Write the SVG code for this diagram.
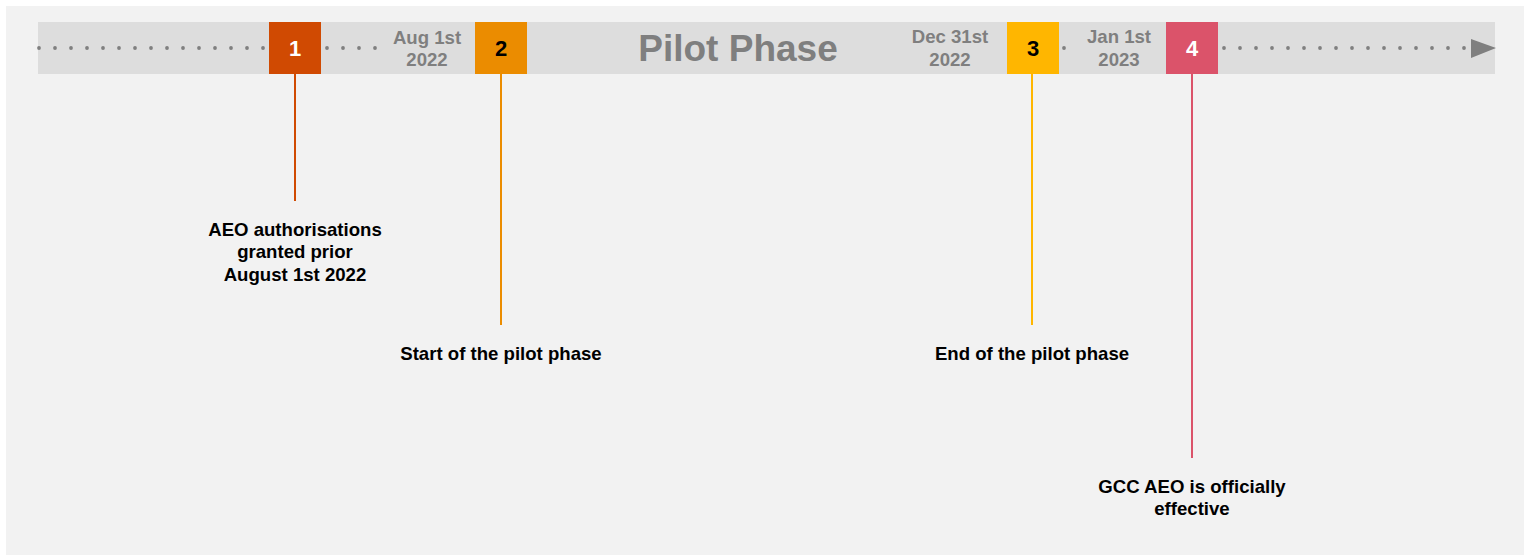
<svg xmlns="http://www.w3.org/2000/svg" width="1533" height="558" viewBox="0 0 1533 558">
<style>
.lbl{font-family:"Liberation Sans",Arial,sans-serif;font-weight:bold;font-size:18.6px;fill:#000;text-anchor:middle}
.date{font-family:"Liberation Sans",Arial,sans-serif;font-weight:bold;font-size:18.6px;fill:#7f7f7f;text-anchor:middle}
.num{font-family:"Liberation Sans",Arial,sans-serif;font-weight:bold;font-size:22px;text-anchor:middle}
.dot{fill:#7f7f7f}
</style>
<defs>
<circle id="d" r="1.9" class="dot"/>
</defs>
<rect x="0" y="0" width="1533" height="558" fill="#ffffff"/>
<rect x="6" y="6" width="1518" height="549" fill="#f2f2f2"/>
<g id="timeline">
<rect x="38" y="22" width="1457" height="52" fill="#dddddd"/>
<g id="dots">
<use href="#d" x="39" y="48"/><use href="#d" x="55" y="48"/><use href="#d" x="71" y="48"/><use href="#d" x="87" y="48"/><use href="#d" x="103" y="48"/><use href="#d" x="119" y="48"/><use href="#d" x="135" y="48"/><use href="#d" x="151" y="48"/><use href="#d" x="167" y="48"/><use href="#d" x="183" y="48"/><use href="#d" x="199" y="48"/><use href="#d" x="215" y="48"/><use href="#d" x="231" y="48"/><use href="#d" x="247" y="48"/><use href="#d" x="263" y="48"/>
<use href="#d" x="327" y="48"/><use href="#d" x="343" y="48"/><use href="#d" x="359" y="48"/><use href="#d" x="375" y="48"/>
<use href="#d" x="1064" y="48"/>
<use href="#d" x="1224" y="48"/><use href="#d" x="1240" y="48"/><use href="#d" x="1256" y="48"/><use href="#d" x="1272" y="48"/><use href="#d" x="1288" y="48"/><use href="#d" x="1304" y="48"/><use href="#d" x="1320" y="48"/><use href="#d" x="1336" y="48"/><use href="#d" x="1352" y="48"/><use href="#d" x="1368" y="48"/><use href="#d" x="1384" y="48"/><use href="#d" x="1400" y="48"/><use href="#d" x="1416" y="48"/><use href="#d" x="1432" y="48"/><use href="#d" x="1448" y="48"/><use href="#d" x="1464" y="48"/>
</g>
<polygon points="1471,39 1496,48 1471,58" fill="#7f7f7f"/>
<text class="date" x="427" y="44">Aug 1st</text>
<text class="date" x="427" y="66">2022</text>
<text x="738" y="61" font-family="'Liberation Sans',Arial,sans-serif" font-weight="bold" font-size="37" fill="#7f7f7f" text-anchor="middle">Pilot Phase</text>
<text class="date" x="950" y="43">Dec 31st</text>
<text class="date" x="950" y="66">2022</text>
<text class="date" x="1119" y="43">Jan 1st</text>
<text class="date" x="1119" y="66">2023</text>
</g>
<g id="connectors">
<line x1="295" y1="74" x2="295" y2="201" stroke="#d04a02" stroke-width="2"/>
<line x1="501" y1="74" x2="501" y2="325" stroke="#eb8c00" stroke-width="2"/>
<line x1="1032" y1="74" x2="1032" y2="325" stroke="#ffb600" stroke-width="2"/>
<line x1="1192" y1="74" x2="1192" y2="458" stroke="#db536a" stroke-width="2"/>
</g>
<g id="m1">
<rect x="269" y="22" width="52" height="52" fill="#d04a02"/>
<text class="num" x="295" y="56" fill="#ffffff">1</text>
<text class="lbl" x="295" y="236">AEO authorisations</text>
<text class="lbl" x="295" y="258">granted prior</text>
<text class="lbl" x="295" y="281">August 1st 2022</text>
</g>
<g id="m2">
<rect x="475" y="22" width="52" height="52" fill="#eb8c00"/>
<text class="num" x="501" y="56" fill="#000000">2</text>
<text class="lbl" x="501" y="360">Start of the pilot phase</text>
</g>
<g id="m3">
<rect x="1007" y="22" width="52" height="52" fill="#ffb600"/>
<text class="num" x="1033" y="56" fill="#000000">3</text>
<text class="lbl" x="1032" y="360">End of the pilot phase</text>
</g>
<g id="m4">
<rect x="1166" y="22" width="52" height="52" fill="#db536a"/>
<text class="num" x="1192" y="56" fill="#ffffff">4</text>
<text class="lbl" x="1192" y="493">GCC AEO is officially</text>
<text class="lbl" x="1192" y="515">effective</text>
</g>
</svg>
